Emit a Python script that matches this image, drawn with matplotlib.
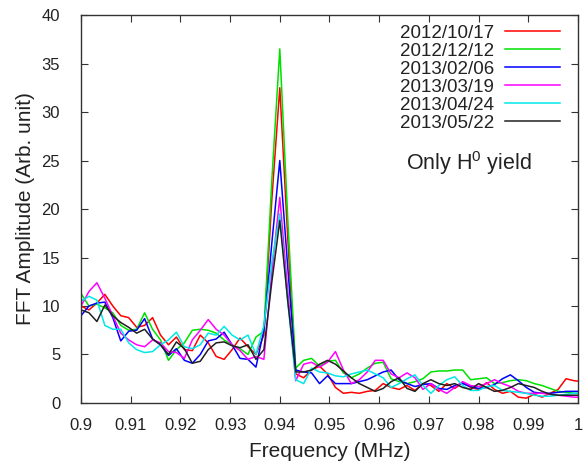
import numpy as np
import matplotlib.pyplot as plt

plt.rcParams['font.family'] = ['Liberation Sans', 'DejaVu Sans']
plt.rcParams['mathtext.fontset'] = 'custom'
plt.rcParams['mathtext.rm'] = 'Liberation Sans'
plt.rcParams['mathtext.it'] = 'Liberation Sans'

# frequency grid (MHz)
freq = 0.9 + 0.0016 * np.arange(64)

labels = ["2012/10/17", "2012/12/12", "2013/02/06", "2013/03/19", "2013/04/24", "2013/05/22"]
colors = ["#ff0000", "#00e000", "#0000ff", "#ff00ff", "#00e8e8", "#202020"]

amp_1017 = [10.0, 9.6, 10.3, 11.2, 10.0, 9.0, 8.8, 7.8, 8.0, 8.8, 7.0, 6.0, 6.8, 5.5, 5.4, 7.0,
            6.2, 4.8, 4.5, 5.5, 6.7, 5.8, 5.0, 7.0, 21.0, 32.5, 17.0, 3.0, 2.6, 3.4, 3.8, 3.0,
            1.6, 1.0, 1.1, 1.0, 1.2, 1.3, 2.0, 1.6, 1.4, 1.8, 1.3, 2.0, 1.8, 1.2, 2.0, 1.5,
            2.1, 1.6, 1.4, 2.1, 1.4, 1.0, 1.2, 0.6, 0.5, 0.9, 0.6, 1.0, 1.4, 2.5, 2.3, 2.2]
amp_1212 = [11.3, 10.0, 10.2, 9.8, 9.3, 8.0, 7.5, 7.6, 9.3, 7.6, 6.5, 4.4, 5.5, 6.2, 7.5, 7.6,
            7.5, 7.2, 6.5, 6.0, 5.6, 5.0, 6.8, 7.4, 23.0, 36.5, 19.0, 3.6, 4.4, 4.6, 3.8, 4.3,
            4.4, 3.1, 2.6, 3.0, 3.6, 4.1, 4.2, 2.5, 2.2, 2.0, 2.2, 2.5, 3.2, 3.3, 3.3, 3.4,
            3.4, 2.4, 2.5, 2.6, 2.0, 2.1, 2.3, 2.4, 2.3, 2.0, 1.8, 1.5, 1.2, 1.1, 1.0, 1.0]
amp_0206 = [9.0, 10.0, 10.3, 10.4, 8.8, 6.4, 7.4, 7.5, 8.7, 6.6, 6.0, 4.9, 5.6, 4.4, 4.1, 5.0,
            6.4, 6.6, 7.3, 6.0, 4.6, 4.5, 3.7, 7.5, 16.5, 25.0, 14.0, 3.4, 3.2, 3.1, 2.0, 2.8,
            2.0, 2.0, 2.0, 2.2, 2.4, 2.8, 3.2, 3.4, 2.4, 2.0, 1.7, 1.9, 2.0, 1.5, 1.4, 1.8,
            2.0, 1.7, 1.5, 1.6, 1.9, 2.5, 2.9, 2.3, 1.6, 1.1, 1.0, 1.0, 1.1, 1.2, 1.2, 1.2]
amp_0319 = [10.0, 11.5, 12.4, 10.8, 9.0, 7.2, 6.5, 6.0, 5.8, 6.5, 6.2, 5.3, 5.2, 4.6, 6.5, 7.5,
            8.6, 7.6, 7.0, 6.0, 5.4, 4.5, 4.8, 4.5, 13.5, 21.2, 11.5, 2.3, 4.0, 4.2, 3.7, 4.2,
            5.3, 3.4, 2.0, 2.4, 3.2, 4.4, 4.4, 3.0, 2.6, 3.1, 2.6, 1.4, 2.0, 1.4, 1.0, 1.6,
            2.2, 1.8, 1.7, 2.0, 2.4, 2.0, 1.7, 1.2, 1.0, 1.0, 1.0, 0.9, 0.8, 0.7, 0.6, 0.6]
amp_0424 = [10.5, 11.0, 10.6, 8.0, 7.6, 7.6, 6.2, 5.5, 5.2, 5.3, 6.0, 6.5, 7.3, 5.8, 5.6, 6.0,
            7.2, 7.0, 7.9, 7.0, 6.5, 7.0, 5.0, 8.0, 14.5, 19.5, 10.5, 2.4, 2.0, 3.6, 3.2, 3.1,
            2.8, 2.7, 3.0, 3.2, 3.4, 3.0, 2.6, 1.6, 2.0, 2.5, 2.9, 1.8, 1.0, 1.8, 2.4, 2.7,
            1.8, 1.3, 1.3, 1.7, 1.8, 1.3, 1.2, 1.1, 1.0, 0.8, 0.7, 0.7, 0.8, 0.9, 1.0, 1.0]
amp_0522 = [9.6, 9.3, 8.4, 10.1, 9.0, 8.3, 7.8, 7.2, 7.6, 6.6, 6.0, 5.0, 6.3, 5.6, 4.1, 4.3,
            5.5, 6.2, 6.3, 5.9, 5.7, 6.0, 4.5, 5.5, 12.5, 18.8, 10.5, 3.2, 3.2, 3.4, 4.0, 4.4,
            4.0, 3.3, 2.6, 2.0, 1.6, 1.2, 1.5, 2.2, 2.6, 1.5, 1.2, 2.0, 2.4, 2.0, 1.8, 2.0,
            1.6, 1.4, 2.0, 1.6, 1.2, 1.3, 1.6, 2.0, 1.8, 1.6, 1.2, 0.9, 0.8, 0.8, 0.8, 0.8]
series = [amp_1017, amp_1212, amp_0206, amp_0319, amp_0424, amp_0522]

fig = plt.figure(figsize=(5.84, 4.68), dpi=100)
ax = fig.add_axes([0.1387, 0.1389, 0.851, 0.829])

for y, c, lab in zip(series, colors, labels):
    ax.plot(freq, y, color=c, lw=1.1, label=lab)

ax.set_xlim(0.9, 1.0)
ax.set_ylim(0, 40)
ax.set_xticks(np.arange(0.9, 1.0001, 0.01))
ax.set_xticklabels(["0.9", "0.91", "0.92", "0.93", "0.94", "0.95", "0.96", "0.97", "0.98", "0.99", "1"])
ax.set_yticks(np.arange(0, 41, 5))
ax.tick_params(direction='in', top=True, right=True, length=5, width=0.8,
               labelsize=12, colors='#333333', labelcolor='#222222')
ax.tick_params(axis='x', pad=11)
ax.tick_params(axis='y', pad=15)
for s in ax.spines.values():
    s.set_color('#333333')
    s.set_linewidth(1.0)

ax.set_xlabel("Frequency (MHz)", fontsize=15, color='#222222', labelpad=6)
ax.set_ylabel("FFT Amplitude (Arb. unit)", fontsize=15, color='#222222', labelpad=5)

leg = ax.legend(loc='upper right', frameon=False, markerfirst=False, fontsize=13.5,
                handlelength=2.9, labelspacing=0.05, handletextpad=0.6,
                borderaxespad=0.1, bbox_to_anchor=(0.982, 1.0))
for t in leg.get_texts():
    t.set_color('#222222')

ax.text(0.781, 0.619, "Only H$^0$ yield", transform=ax.transAxes, fontsize=15.5,
        color='#222222', ha='center', va='center')

fig.savefig("out.png", dpi=100)
